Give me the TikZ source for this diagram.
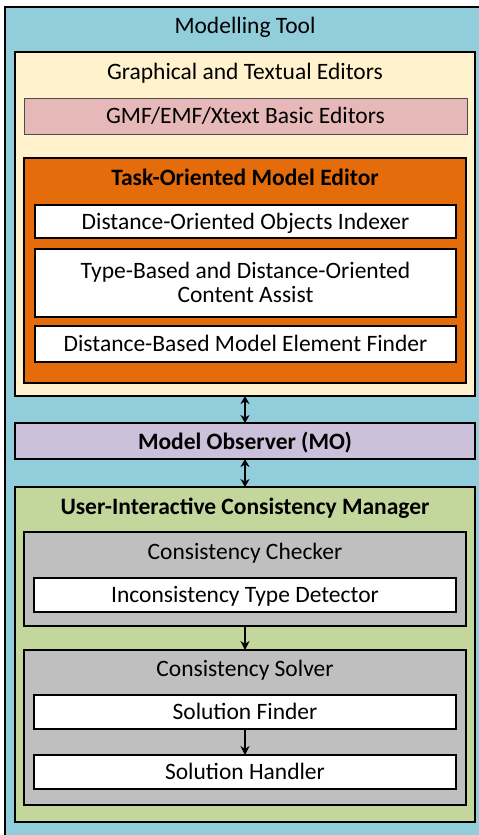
\documentclass[tikz,border=0pt]{standalone}
\usepackage{fontspec}
\setmainfont{Carlito}
\usetikzlibrary{arrows.meta}
\definecolor{toolblue}{HTML}{92CDDC}
\definecolor{editorcream}{HTML}{FFF2CC}
\definecolor{basicpink}{HTML}{E6B9B8}
\definecolor{taskorange}{HTML}{E46C0A}
\definecolor{observerlilac}{HTML}{CCC1DA}
\definecolor{managergreen}{HTML}{C3D69B}
\definecolor{partgray}{HTML}{BFBFBF}
\tikzset{
  panel/.style={draw=black, line width=1.3pt, rectangle, inner sep=0pt, outer sep=0pt},
  label/.style={font=\fontsize{23.5}{24.5}\selectfont, inner sep=0pt, align=center,
    text depth=1pt},
  boldlabel/.style={label, font=\fontsize{23.5}{24.5}\selectfont\bfseries},
  link/.style={line width=1.5pt, -{Stealth[length=9pt,width=9pt]}},
  biglink/.style={line width=1.5pt, {Stealth[length=8pt,width=9pt]}-{Stealth[length=8pt,width=9pt]}}
}
% \panelbox{name}{x1}{y1}{x2}{y2}{style}{text}
\newcommand{\panelbox}[7]{%
  \node[panel, #6, minimum width={(#4-#2)*1pt}, minimum height={(#5-#3)*1pt}]
    (#1) at ({(#2+#4)/2},{(#3+#5)/2}) {#7};}
\begin{document}
\begin{tikzpicture}[x=1pt,y=-1pt]
\useasboundingbox (0,0) rectangle (479,835);
\clip (0,0) rectangle (479,835);
% outer tool frame
\panelbox{tool}{5}{7}{495}{850}{fill=toolblue}{}
\node[label] (tooltitle) at (245,25.5) {Modelling Tool};
% editors
\panelbox{editors}{15}{52}{475}{396}{fill=editorcream}{}
\node[label] (editorstitle) at (245,71.5) {Graphical and Textual Editors};
\panelbox{basic}{24}{98}{467}{134}{fill=basicpink,label,draw=black!70,line width=0.8pt}{GMF/EMF/Xtext Basic Editors}
\panelbox{task}{24}{158}{466}{383}{fill=taskorange}{}
\node[boldlabel] (tasktitle) at (245,177.5) {Task-Oriented Model Editor};
\panelbox{indexer}{35}{205}{456}{238}{fill=white,label}{Distance-Oriented Objects Indexer}
\panelbox{assist}{35}{249}{456}{317}{fill=white,label}{Type-Based and Distance-Oriented\\Content Assist}
\panelbox{finder}{35}{326}{456}{362}{fill=white,label}{Distance-Based Model Element Finder}
% observer
\panelbox{observer}{15}{423}{475}{459}{fill=observerlilac,boldlabel}{Model Observer (MO)}
% consistency manager
\panelbox{manager}{15}{487}{475}{822}{fill=managergreen}{}
\node[boldlabel] (managertitle) at (245,506.5) {User-Interactive Consistency Manager};
\panelbox{checker}{24}{532}{466}{626}{fill=partgray}{}
\node[label] (checkertitle) at (245,551.5) {Consistency Checker};
\panelbox{detector}{34}{578}{456}{612}{fill=white,label}{Inconsistency Type Detector}
\panelbox{solver}{24}{650}{466}{805}{fill=partgray}{}
\node[label] (solvertitle) at (245,668.5) {Consistency Solver};
\panelbox{solfinder}{34}{695}{456}{729}{fill=white,label}{Solution Finder}
\panelbox{handler}{34}{755}{456}{789}{fill=white,label}{Solution Handler}
% connectors
\draw[biglink] (editors.south) -- (observer.north);
\draw[biglink] (observer.south) -- (manager.north);
\draw[link] (checker.south) -- (solver.north);
\draw[link] (solfinder.south) -- (handler.north);
\end{tikzpicture}
\end{document}
